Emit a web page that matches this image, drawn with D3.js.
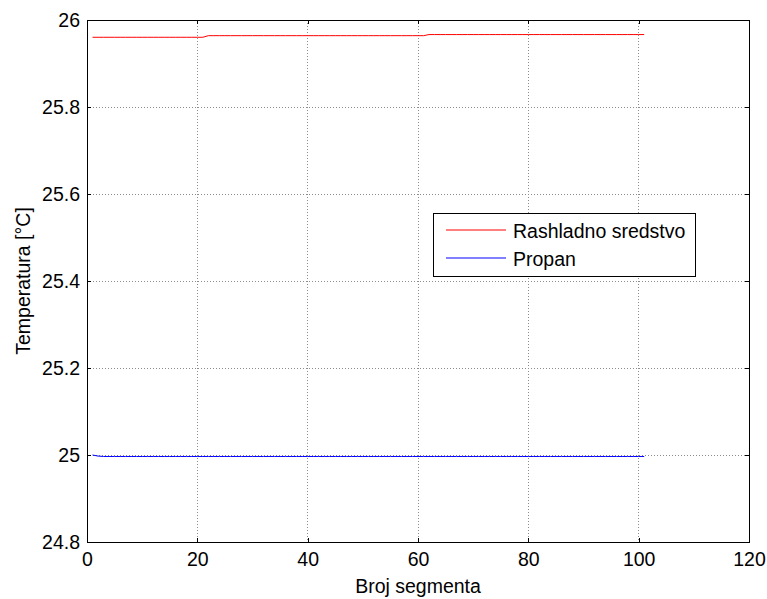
<!DOCTYPE html>
<html>
<head>
<meta charset="utf-8">
<script src="https://cdn.jsdelivr.net/npm/d3@7"></script>
<style>
  body { margin: 0; background: #fff; }
  svg { display: block; font-family: "Liberation Sans", Arial, sans-serif; }
</style>
</head>
<body>
<svg id="chart" width="767" height="599"></svg>
<script>
// ---- data ----
const segments = d3.range(1, 102); // 1..101
// Rashladno sredstvo: three flat levels with small steps
const rashladnoLevels = [
  { from: 1, to: 21, value: 25.9603 },
  { from: 22, to: 61, value: 25.9640 },
  { from: 62, to: 101, value: 25.9665 }
];
// Propan: starts at 25.0, drops slightly and stays flat
const propanStart = [25.0, 24.9975];
const propanRest = 24.9966;

const xTicks = [0, 20, 40, 60, 80, 100, 120];
const yTicks = [24.8, 25, 25.2, 25.4, 25.6, 25.8, 26];
const yTickLabels = ["24.8", "25", "25.2", "25.4", "25.6", "25.8", "26"];
const seriesNames = ["Rashladno sredstvo", "Propan"];
const seriesColors = ["#ff0000", "#0000ff"];

const rashladno = segments.map(s => {
  const lvl = rashladnoLevels.find(l => s >= l.from && s <= l.to);
  return [s, lvl.value];
});
const propan = segments.map((s, i) => [s, i < propanStart.length ? propanStart[i] : propanRest]);

// ---- layout ----
const svg = d3.select("#chart");
const L = 87, R = 749, T = 20, B = 542;
const FS = "19.5px";
const x = d3.scaleLinear().domain([0, 120]).range([L, R]);
const y = d3.scaleLinear().domain([24.8, 26]).range([B, T]);

// grid
const grid = svg.append("g");
grid.selectAll(".gx").data(xTicks.slice(1, -1)).enter().append("line")
  .attr("x1", d => x(d)).attr("x2", d => x(d)).attr("y1", T).attr("y2", B)
  .attr("stroke", "#8c8c8c").attr("stroke-width", 1).attr("stroke-dasharray", "1,2")
  .attr("shape-rendering", "crispEdges");
grid.selectAll(".gy").data(yTicks.slice(1, -1)).enter().append("line")
  .attr("y1", d => y(d)).attr("y2", d => y(d)).attr("x1", L).attr("x2", R)
  .attr("stroke", "#8c8c8c").attr("stroke-width", 1).attr("stroke-dasharray", "1,2")
  .attr("shape-rendering", "crispEdges");

// lines
const line = d3.line().x(d => x(d[0])).y(d => y(d[1]));
[rashladno, propan].forEach((data, i) => {
  svg.append("path").datum(data).attr("d", line)
    .attr("fill", "none").attr("stroke", seriesColors[i]).attr("stroke-width", 1);
});

// axes (inward ticks on all four sides)
const tickLen = 4;
const fmtY = d => yTickLabels[yTicks.indexOf(d)];
const axB = d3.axisBottom(x).tickValues(xTicks).tickSizeInner(-tickLen).tickSizeOuter(0).tickPadding(10);
const axT = d3.axisTop(x).tickValues(xTicks).tickSizeInner(-tickLen).tickSizeOuter(0).tickFormat("");
const axL = d3.axisLeft(y).tickValues(yTicks).tickFormat(fmtY).tickSizeInner(-tickLen).tickSizeOuter(0).tickPadding(7);
const axR = d3.axisRight(y).tickValues(yTicks).tickSizeInner(-tickLen).tickSizeOuter(0).tickFormat("");

function style(g) {
  g.selectAll("path").attr("stroke", "#000").attr("shape-rendering", "crispEdges");
  g.selectAll("line").attr("stroke", "#000").attr("shape-rendering", "crispEdges");
  g.selectAll("text").attr("fill", "#000").style("font-size", FS)
    .style("font-family", "'Liberation Sans', Arial, sans-serif");
}
svg.append("g").attr("transform", `translate(0,${B})`).call(axB).call(style);
svg.append("g").attr("transform", `translate(0,${T})`).call(axT).call(style);
svg.append("g").attr("transform", `translate(${L},0)`).call(axL).call(style);
svg.append("g").attr("transform", `translate(${R},0)`).call(axR).call(style);

// axis titles
svg.append("text").attr("x", (L + R) / 2).attr("y", 593)
  .attr("text-anchor", "middle").style("font-size", FS).text("Broj segmenta");
svg.append("text").attr("transform", `translate(30,${(T + B) / 2}) rotate(-90)`)
  .attr("text-anchor", "middle").style("font-size", FS).text("Temperatura [°C]");

// legend
const lg = svg.append("g");
lg.append("rect").attr("x", 433.5).attr("y", 213.5).attr("width", 262).attr("height", 63)
  .attr("fill", "#fff").attr("stroke", "#000").attr("stroke-width", 1);
seriesNames.forEach((name, i) => {
  const yy = 230 + i * 28;
  lg.append("line").attr("x1", 446).attr("x2", 506).attr("y1", yy).attr("y2", yy)
    .attr("stroke", seriesColors[i]).attr("stroke-width", 1);
  lg.append("text").attr("x", 513).attr("y", yy + 8).style("font-size", FS).text(name);
});
</script>
</body>
</html>
